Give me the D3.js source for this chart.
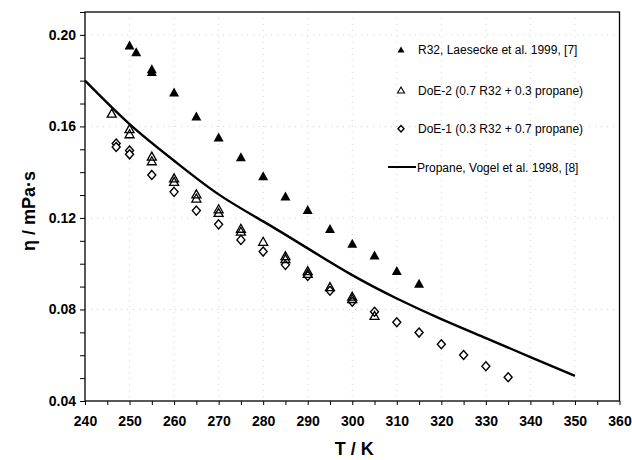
<!DOCTYPE html>
<html>
<head>
<meta charset="utf-8">
<script src="https://cdn.jsdelivr.net/npm/d3@7"></script>
<style>
  html, body { margin: 0; padding: 0; background: #fff; }
  svg { display: block; font-family: "Liberation Sans", Arial, Helvetica, sans-serif; }
</style>
</head>
<body>
<svg id="chart" width="632" height="460"></svg>
<script>
// ---- Data ----
const r32T   = [250, 251.5, 255, 255, 260, 265, 270, 275, 280, 285, 290, 295, 300, 305, 310, 315];
const r32Eta = [0.1956, 0.1926, 0.1852, 0.1840, 0.1750, 0.1646, 0.1554, 0.1467, 0.1384, 0.1296, 0.1237, 0.1154, 0.1089, 0.1038, 0.0970, 0.0915];

const doe2T   = [246, 250, 250, 255, 255, 260, 260, 265, 265, 270, 270, 275, 275, 280, 285, 285, 290, 290, 295, 300, 300, 305];
const doe2Eta = [0.1658, 0.1590, 0.1568, 0.1470, 0.1450, 0.1375, 0.1360, 0.1305, 0.1287, 0.1240, 0.1224, 0.1155, 0.1142, 0.1098, 0.1035, 0.1022, 0.0970, 0.0958, 0.0900, 0.0858, 0.0848, 0.0774];

const doe1T   = [247, 247, 250, 250, 255, 260, 265, 270, 275, 280, 285, 290, 295, 300, 305, 310, 315, 320, 325, 330, 335];
const doe1Eta = [0.1525, 0.1510, 0.1495, 0.1478, 0.1388, 0.1314, 0.1232, 0.1172, 0.1104, 0.1053, 0.0995, 0.0946, 0.0882, 0.0834, 0.0790, 0.0744, 0.0699, 0.0648, 0.0601, 0.0552, 0.0504];

const propT   = [240, 250, 260, 270, 280, 290, 300, 310, 320, 330, 340, 350];
const propEta = [0.1800, 0.1610, 0.1450, 0.1303, 0.1185, 0.1067, 0.0950, 0.0848, 0.0758, 0.0675, 0.0592, 0.0510];

const xTicks = [240, 250, 260, 270, 280, 290, 300, 310, 320, 330, 340, 350, 360];
const yTicks = [0.04, 0.08, 0.12, 0.16, 0.20];
const legendLabels = [
  "R32, Laesecke et al. 1999, [7]",
  "DoE-2 (0.7 R32 + 0.3 propane)",
  "DoE-1 (0.3 R32 + 0.7 propane)",
  "Propane, Vogel et al. 1998, [8]"
];

// ---- Layout ----
const svg = d3.select("#chart");
const L = 85, R = 619.5, T = 12, B = 401;
const x = d3.scaleLinear().domain([240, 360]).range([L, R]);
const y = d3.scaleLinear().domain([0.04, 0.21]).range([B, T]);

// faint dotted grid (scan look)
const grid = svg.append("g").attr("stroke", "#c8c8c8").attr("stroke-width", 0.8)
  .attr("stroke-dasharray", "1,5");
grid.selectAll("line.v").data(xTicks.slice(1, -1)).join("line")
  .attr("x1", d => x(d)).attr("x2", d => x(d)).attr("y1", T).attr("y2", B);
grid.selectAll("line.h").data(yTicks.slice(1)).join("line")
  .attr("x1", L).attr("x2", R).attr("y1", d => y(d)).attr("y2", d => y(d));

// axes
const minorX = d3.range(240, 361, 5);
const minorY = d3.range(4, 22, 1).map(v => v / 100);

const xAxis = d3.axisBottom(x).tickValues(minorX).tickSize(4).tickFormat("");
svg.append("g").attr("transform", `translate(0,${B})`).call(xAxis)
  .call(g => g.select(".domain").remove())
  .call(g => g.selectAll("line").attr("stroke", "#000").attr("stroke-width", 1));
const xLab = d3.axisBottom(x).tickValues(xTicks).tickSize(0).tickPadding(15).tickFormat(d3.format("d"));
svg.append("g").attr("transform", `translate(0,${B})`).call(xLab)
  .call(g => g.select(".domain").remove())
  .call(g => g.selectAll("text").attr("font-size", 14).attr("font-weight", "bold")
    .attr("fill", "#000").attr("font-family", "Liberation Sans, Arial, sans-serif"));

const yAxis = d3.axisLeft(y).tickValues(minorY).tickSize(5).tickFormat("");
svg.append("g").attr("transform", `translate(${L},0)`).call(yAxis)
  .call(g => g.select(".domain").remove())
  .call(g => g.selectAll("line").attr("stroke", "#000").attr("stroke-width", 1));
const yLab = d3.axisLeft(y).tickValues(yTicks).tickSize(0).tickPadding(9).tickFormat(d3.format(".2f"));
svg.append("g").attr("transform", `translate(${L},0)`).call(yLab)
  .call(g => g.select(".domain").remove())
  .call(g => g.selectAll("text").attr("font-size", 14).attr("font-weight", "bold")
    .attr("fill", "#000").attr("font-family", "Liberation Sans, Arial, sans-serif"));

// frame
svg.append("rect").attr("x", L).attr("y", T).attr("width", R - L).attr("height", B - T)
  .attr("fill", "none").attr("stroke", "#000").attr("stroke-width", 1.3);

// axis titles
svg.append("text").attr("x", (L + R) / 2 + 2).attr("y", 455)
  .attr("text-anchor", "middle").attr("font-size", 18).attr("font-weight", "bold")
  .text("T / K");
svg.append("text").attr("transform", "translate(35,211) rotate(-90)")
  .attr("text-anchor", "middle").attr("font-size", 18).attr("font-weight", "bold")
  .text("η / mPa·s");

// marker shapes
const triPath = (w, h) => `M0,${-h / 2}L${w / 2},${h / 2}L${-w / 2},${h / 2}Z`;
const diaPath = (w, h) => `M0,${-h / 2}L${w / 2},0L0,${h / 2}L${-w / 2},0Z`;

// propane line
const line = d3.line().x(d => x(d[0])).y(d => y(d[1])).curve(d3.curveNatural);
svg.append("path").datum(d3.zip(propT, propEta)).attr("d", line)
  .attr("fill", "none").attr("stroke", "#000").attr("stroke-width", 2.4);

// DoE-1 diamonds
svg.append("g").selectAll("path").data(d3.zip(doe1T, doe1Eta)).join("path")
  .attr("transform", d => `translate(${x(d[0])},${y(d[1])})`)
  .attr("d", diaPath(8, 9)).attr("fill", "#fff").attr("stroke", "#000").attr("stroke-width", 1.4);

// DoE-2 open triangles
svg.append("g").selectAll("path").data(d3.zip(doe2T, doe2Eta)).join("path")
  .attr("transform", d => `translate(${x(d[0])},${y(d[1])})`)
  .attr("d", triPath(9, 8)).attr("fill", "none").attr("stroke", "#000").attr("stroke-width", 1.3);

// R32 filled triangles
svg.append("g").selectAll("path").data(d3.zip(r32T, r32Eta)).join("path")
  .attr("transform", d => `translate(${x(d[0])},${y(d[1])})`)
  .attr("d", triPath(10, 9)).attr("fill", "#000");

// legend
const lgY = [49.5, 90, 128.7, 167];
const lg = svg.append("g");
lg.append("path").attr("transform", `translate(401,${lgY[0]})`).attr("d", triPath(7, 6)).attr("fill", "#000");
lg.append("path").attr("transform", `translate(401,${lgY[1]})`).attr("d", triPath(7, 6))
  .attr("fill", "none").attr("stroke", "#000").attr("stroke-width", 1.1);
lg.append("path").attr("transform", `translate(401,${lgY[2]})`).attr("d", diaPath(6, 6.5))
  .attr("fill", "none").attr("stroke", "#000").attr("stroke-width", 1.4);
lg.append("line").attr("x1", 388).attr("x2", 416).attr("y1", lgY[3]).attr("y2", lgY[3])
  .attr("stroke", "#000").attr("stroke-width", 2);
lg.selectAll("text").data(legendLabels).join("text")
  .attr("x", (d, i) => i === 3 ? 417 : 418).attr("y", (d, i) => lgY[i] + 4.5)
  .attr("font-size", 12).attr("fill", "#000").text(d => d);
</script>
</body>
</html>
